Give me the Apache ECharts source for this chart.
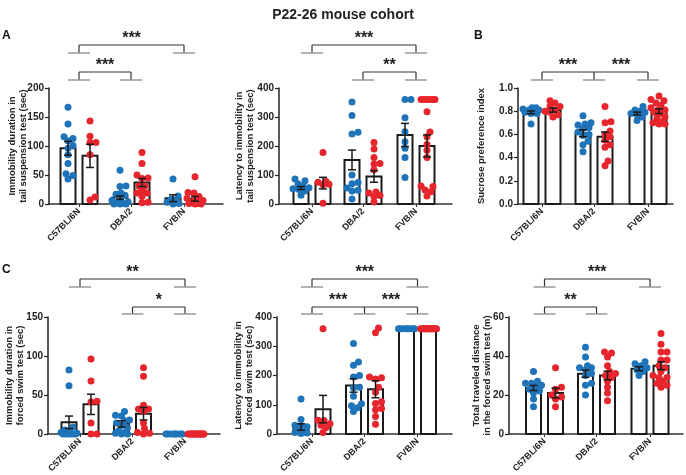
<!DOCTYPE html>
<html>
<head>
<meta charset="utf-8">
<script src="https://cdn.jsdelivr.net/npm/echarts@6/dist/echarts.min.js"></script>
<style>
html,body{margin:0;padding:0;background:#fff}
#main{width:686px;height:475px}
</style>
</head>
<body>
<div id="main"></div>
<script>
var strains = ['C57BL/6N', 'DBA/2', 'FVB/N'];

// A left: immobility in tail suspension test (sec)
var tstImmBlue = [[167,138,116,113,109,101,96,85,70,52,49,43],[58,31,30,19,17,15,10,6,4,2,1,0,0,0],[43,14,8,5,3,1,0]];
var tstImmRed  = [[143,117,106,106,85,12,7],[89,70,50,45,44,31,31,23,19,19,13,3,2],[47,20,19,13,10,7,6,2,1,1,0,0]];
var tstImmMean = [[96,83],[11,37],[10,9]];
var tstImmSem  = [[12,20],[3,7],[6,4]];

// A right: latency to immobility in tail suspension test (sec)
var tstLatBlue = [[86,80,70,62,56,53,50,45,30],[352,305,247,241,100,74,70,55,47,45,17],[360,360,297,249,215,192,160,91]];
var tstLatRed  = [[178,78,75,68,66,3],[212,190,160,140,138,118,41,38,29,26,7],[360,360,360,360,360,360,318,248,232,205,185,160,62,60,48,42,28]];
var tstLatMean = [[55,72],[152,95],[238,200]];
var tstLatSem  = [[5,20],[34,20],[40,38]];

// B: sucrose preference index
var spiBlue = [[0.83,0.83,0.82,0.81,0.81,0.80,0.79,0.78,0.78,0.69],[0.76,0.70,0.69,0.68,0.66,0.65,0.62,0.60,0.59,0.54,0.51,0.45],[0.84,0.81,0.80,0.79,0.78,0.77,0.75,0.72]];
var spiRed  = [[0.89,0.87,0.84,0.84,0.81,0.80,0.79,0.77,0.75],[0.84,0.71,0.70,0.63,0.60,0.58,0.55,0.51,0.49,0.37,0.33],[0.93,0.90,0.89,0.87,0.85,0.83,0.81,0.81,0.79,0.78,0.75,0.74,0.71,0.70,0.69,0.69]];
var spiMean = [[0.79,0.81],[0.61,0.58],[0.78,0.80]];
var spiSem  = [[0.012,0.018],[0.03,0.04],[0.012,0.02]];

// C left: immobility in forced swim test (sec)
var fstImmBlue = [[82,62,9,5,3,2,1,0,0,0,0,0],[29,24,23,18,17,14,11,8,4,2,1,0,0],[0,0,0,0,0,0,0,0]];
var fstImmRed  = [[96,68,42,41,14,0,0],[85,74,37,32,32,29,14,7,2,1,0],[0,0,0,0,0,0,0,0,0,0,0,0,0,0,0,0]];
var fstImmMean = [[15,38],[13,26],[0,0]];
var fstImmSem  = [[8,13],[4,8],[0,0]];

// C middle: latency to immobility in forced swim test (sec)
var fstLatBlue = [[120,50,30,28,25,12,8,5,3,2],[309,246,235,200,195,160,158,129,103,97,90,77],[360,360,360,360,360,360,360,360]];
var fstLatRed  = [[360,47,46,35,30,22,5],[362,346,195,192,188,160,143,110,104,87,83,60,33],[360,360,360,360,360,360,360,360,360,360,360,360,360,360,360,360]];
var fstLatMean = [[24,85],[166,153],[360,360]];
var fstLatSem  = [[11,47],[23,29],[0,0]];

// C right: distance travelled in forced swim test (m)
var fstDistBlue = [[32,27,26,26,25,24,23,22,21,18,14],[44.5,39.5,35,34,34,33,31,30,26,25,20],[37,36,35,34,33,32,30]];
var fstDistRed  = [[34,24,23,20,19,18,14],[42,41.5,39.5,35,32,31,30,29,27,24,21,17],[51.5,46,42,42,38,38,35,34,32,30,29,29,27,26,25,24]];
var fstDistMean = [[23.6,21],[30.9,30],[33.5,35]];
var fstDistSem  = [[1.3,2.5],[1.8,2.2],[1,2]];

// significance brackets (strain indexes)
var tstImmSig = [{legs:[0,2], level:0, stars:['***']}, {legs:[0,1], level:1, stars:['***']}];
var tstLatSig = [{legs:[0,2], level:0, stars:['***']}, {legs:[1,2], level:1, stars:['**']}];
var spiSig    = [{legs:[0,1,2], level:1, stars:['***','***']}];
var fstImmSig = [{legs:[0,2], level:0, stars:['**']}, {legs:[1,2], level:1, stars:['*']}];
var fstLatSig = [{legs:[0,2], level:0, stars:['***']}, {legs:[0,1,2], level:1, stars:['***','***']}];
var fstDistSig = [{legs:[0,2], level:0, stars:['***']}, {legs:[0,1], level:1, stars:['**']}];

var FONT = "'Liberation Sans', Arial, sans-serif";
var BLUE = '#1f74b9', RED = '#e6262c';

var rowLevels = {
	A: [{bar:-43, leg:-35, star:-53}, {bar:-16, leg:-8, star:-26}],
	C: [{bar:-38, leg:-30, star:-48}, {bar:-10, leg:-3, star:-20}]
};

var panels = [
	{box:[49,88,174,116], gx:[30,82,135], yMax:200, step:50, gap:20, row:'A',
	 name:'Immobility duration in\ntail suspension test (sec)', blue:tstImmBlue, red:tstImmRed, mean:tstImmMean, sem:tstImmSem, sig:tstImmSig},
	{box:[279,88,173,116], gx:[33,84,137], yMax:400, step:100, gap:23, row:'A',
	 name:'Latency to immobility in\ntail suspension test (sec)', blue:tstLatBlue, red:tstLatRed, mean:tstLatMean, sem:tstLatSem, sig:tstLatSig},
	{box:[518,88,155,116], gx:[24,76,130], yMax:1, step:0.2, gap:31, row:'A', dec:1,
	 name:'Sucrose preference index', blue:spiBlue, red:spiRed, mean:spiMean, sem:spiSem, sig:spiSig},
	{box:[48,317,172,117], gx:[32,84.5,137], yMax:150, step:50, gap:22, row:'C',
	 name:'Immobility duration in\nforced swim test (sec)', blue:fstImmBlue, red:fstImmRed, mean:fstImmMean, sem:fstImmSem, sig:fstImmSig},
	{box:[277,317,175,117], gx:[35,87.5,140.5], yMax:400, step:100, gap:22, row:'C',
	 name:'Latency to immobility in\nforced swim test (sec)', blue:fstLatBlue, red:fstLatRed, mean:fstLatMean, sem:fstLatSem, sig:fstLatSig},
	{box:[509,317,174,117], gx:[35.5,87.5,141], yMax:60, step:20, gap:16, row:'C',
	 name:'Total traveled distance\nin the forced swim test (m)', blue:fstDistBlue, red:fstDistRed, mean:fstDistMean, sem:fstDistSem, sig:fstDistSig}
];

// simple beeswarm: pixel offsets so dots don't pile up, kept inside the bar
function swarm(vals, ppu) {
	var order = vals.map(function(v, i){ return i; }).sort(function(a, b){ return vals[a] - vals[b]; });
	var placed = [], off = [];
	order.forEach(function(i){
		var y = vals[i] * ppu, best = 0, bestD = -1;
		for (var k = 0; k <= 16; k++) {
			var c = (k % 2 ? 1 : -1) * Math.ceil(k / 2);
			var m = Infinity;
			placed.forEach(function(p){ var d = Math.hypot(p.x - c, p.y - y); if (d < m) m = d; });
			if (m >= 5.5) { best = c; break; }
			if (m > bestD) { bestD = m; best = c; }
		}
		off[i] = best;
		placed.push({x:best, y:y});
	});
	return off;
}

function seg(x1, y1, x2, y2, color, w) {
	return {type:'line', shape:{x1:x1, y1:y1, x2:x2, y2:y2}, style:{stroke:color, lineWidth:w}};
}

var grids = [], xAxes = [], yAxes = [], series = [];

panels.forEach(function(p, i){
	grids.push({left:p.box[0], top:p.box[1], width:p.box[2], height:p.box[3], outerBoundsMode:'none'});
	xAxes.push({
		gridIndex:i, type:'value', min:0, max:p.box[2],
		splitLine:{show:false},
		axisLine:{show:true, onZero:false, lineStyle:{color:'#333', width:1.5}},
		axisTick:{show:true, customValues:p.gx, length:3, lineStyle:{color:'#333', width:1}},
		axisLabel:{customValues:p.gx, rotate:45, margin:6, color:'#222', fontSize:9, fontWeight:'bold', fontFamily:FONT,
			formatter:function(v){
				var best = 0;
				p.gx.forEach(function(g, k){ if (Math.abs(g - v) < Math.abs(p.gx[best] - v)) best = k; });
				return strains[best];
			}}
	});
	yAxes.push({
		gridIndex:i, type:'value', min:0, max:p.yMax, interval:p.step,
		splitLine:{show:false},
		axisLine:{show:true, lineStyle:{color:'#222', width:1.5}},
		axisTick:{show:true, length:4, lineStyle:{color:'#222', width:1.2}},
		axisLabel:{margin:5, color:'#222', fontSize:10, fontWeight:'bold', fontFamily:FONT,
			formatter:function(v){ return p.dec ? v.toFixed(p.dec) : String(v); }},
		name:p.name, nameLocation:'middle', nameGap:p.gap, nameMoveOverlap:false,
		nameTextStyle:{color:'#222', fontSize:9.5, fontWeight:'bold', fontFamily:FONT, lineHeight:11}
	});

	var ppu = p.box[3] / p.yMax;
	var bars = [], errs = [], blueDots = [], redDots = [];
	for (var g = 0; g < 3; g++) {
		[[p.blue, -11, blueDots, 0], [p.red, 11, redDots, 1]].forEach(function(s){
			var x = p.gx[g] + s[1];
			bars.push([x, p.mean[g][s[3]]]);
			errs.push([x, p.mean[g][s[3]], p.sem[g][s[3]]]);
			var vals = s[0][g], offs = swarm(vals, ppu);
			vals.forEach(function(v, k){ s[2].push([x + offs[k], v]); });
		});
	}

	series.push({
		type:'custom', xAxisIndex:i, yAxisIndex:i, z:1, data:bars,
		renderItem:function(params, api){
			var top = api.coord([api.value(0), api.value(1)]);
			var base = api.coord([api.value(0), 0]);
			return {type:'rect', shape:{x:top[0] - 7.5, y:top[1], width:15, height:base[1] - top[1]},
				style:{fill:'#fff', stroke:'#1a1a1a', lineWidth:2}};
		}
	});
	series.push({type:'scatter', xAxisIndex:i, yAxisIndex:i, z:2, clip:false, symbolSize:7,
		itemStyle:{color:BLUE, opacity:1}, data:blueDots});
	series.push({type:'scatter', xAxisIndex:i, yAxisIndex:i, z:2, clip:false, symbolSize:7,
		itemStyle:{color:RED, opacity:1}, data:redDots});
	series.push({
		type:'custom', xAxisIndex:i, yAxisIndex:i, z:3, data:errs,
		renderItem:function(params, api){
			var x = api.value(0), m = api.value(1), e = api.value(2);
			if (!e) return {type:'group', children:[]};
			var hi = api.coord([x, m + e]), lo = api.coord([x, Math.max(0, m - e)]);
			return {type:'group', children:[
				seg(hi[0], hi[1], hi[0], lo[1], '#1a1a1a', 1.5),
				seg(hi[0] - 4, hi[1], hi[0] + 4, hi[1], '#1a1a1a', 1.5),
				seg(hi[0] - 4, lo[1], hi[0] + 4, lo[1], '#1a1a1a', 1.5)
			]};
		}
	});
	series.push({
		type:'custom', xAxisIndex:i, yAxisIndex:i, z:3,
		data:p.sig.map(function(s, k){ return [k]; }),
		encode:{x:-1, y:-1},
		renderItem:function(params, api){
			var s = p.sig[api.value(0)];
			var lv = rowLevels[p.row][s.level];
			var top = params.coordSys.y;
			var xs = s.legs.map(function(g){ return api.coord([p.gx[g], 0])[0]; });
			var yb = top + lv.bar, yl = top + lv.leg, ys = top + lv.star;
			var ch = [seg(xs[0], yb, xs[xs.length - 1], yb, '#333', 1.2)];
			xs.forEach(function(x){
				ch.push(seg(x, yb, x, yl, '#333', 1.2));
				ch.push(seg(x - 11, yl, x + 11, yl, '#999', 1.5));
			});
			s.stars.forEach(function(t, j){
				ch.push({type:'text', style:{text:t, x:(xs[j] + xs[j + 1]) / 2, y:ys + 4, align:'center', verticalAlign:'middle',
					font:'bold 16px ' + FONT, fill:'#222'}});
			});
			return {type:'group', children:ch};
		}
	});
});

var chart = echarts.init(document.getElementById('main'));
chart.setOption({
	animation:false,
	backgroundColor:'#fff',
	title:{text:'P22-26 mouse cohort', left:'center', top:3,
		textStyle:{fontSize:14, fontWeight:'bold', color:'#222', fontFamily:FONT}},
	graphic:[
		{type:'text', left:2, top:30, style:{text:'A', font:'bold 12px ' + FONT, fill:'#111'}},
		{type:'text', left:474, top:30, style:{text:'B', font:'bold 12px ' + FONT, fill:'#111'}},
		{type:'text', left:2, top:264, style:{text:'C', font:'bold 12px ' + FONT, fill:'#111'}}
	],
	grid:grids,
	xAxis:xAxes,
	yAxis:yAxes,
	series:series
});
window.onresize = function(){ chart.resize(); };
</script>
</body>
</html>
